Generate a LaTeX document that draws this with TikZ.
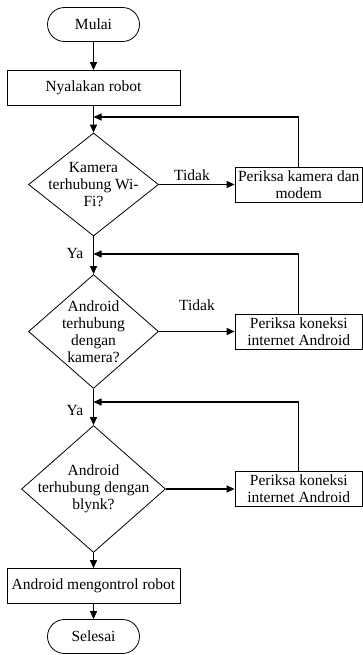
\documentclass[tikz,border=0pt]{standalone}
\usepackage{fontspec}
\setmainfont{Liberation Serif}
\usetikzlibrary{shapes.geometric,arrows.meta}

\begin{document}
\begin{tikzpicture}[x=1pt,y=-1pt,
  font=\fontsize{15.5}{17}\selectfont,
  terminal/.style={draw,line width=0.8pt,rounded corners=17pt,minimum width=92pt,minimum height=34pt,inner sep=0pt},
  process/.style={draw,line width=0.8pt,minimum width=173pt,minimum height=35pt,inner sep=0pt},
  check/.style={draw,line width=0.8pt,align=center,minimum width=127.5pt,minimum height=35pt,inner sep=0pt},
  decision/.style={draw,diamond,line width=0.8pt,inner sep=0pt},
  arrow/.style={line width=1.2pt,-{Triangle[length=8pt,width=7pt]}}]
\useasboundingbox (0,0) rectangle (363,655);

\node[terminal] (mulai) at (93.5,24.5) {Mulai};
\node[process] (nyala) at (93.5,88) {Nyalakan robot};

\node[decision,minimum width=130pt,minimum height=103pt] (cek1) at (93.5,184.5) {};
\node[align=center] (t1) at (cek1) {Kamera\\terhubung Wi-\\Fi?};
\node[check] (periksa1) at (298.75,184.5) {Periksa kamera dan\\modem};

\node[decision,minimum width=130pt,minimum height=114pt] (cek2) at (93.5,331.5) {};
\node[align=center] (t2) at (cek2) {Android\\terhubung\\dengan\\kamera?};
\node[check] (periksa2) at (298.75,331.5) {Periksa koneksi\\internet Android};

\node[decision,minimum width=144pt,minimum height=127pt] (cek3) at (93.5,489) {};
\node[align=center] (t3) at (cek3) {Android\\terhubung dengan\\blynk?};
\node[check] (periksa3) at (298.75,489) {Periksa koneksi\\internet Android};

\node[process] (kontrol) at (93.5,586) {Android mengontrol robot};
\node[terminal] (selesai) at (93.5,636.5) {Selesai};

\node (tidak1) at (192,175) {Tidak};
\node (tidak2) at (197,305) {Tidak};
\node (ya1) at (75,253) {Ya};
\node (ya2) at (75,410) {Ya};

\coordinate (j1) at (93.5,117);
\coordinate (j2) at (93.5,254);
\coordinate (j3) at (93.5,402);

\draw[arrow] (mulai) -- (nyala);
\draw[arrow] (nyala) -- (cek1);
\draw[arrow] (cek1) -- (cek2);
\draw[arrow] (cek2) -- (cek3);
\draw[arrow] (cek3) -- (kontrol);
\draw[arrow] (kontrol) -- (selesai);

\draw[arrow] (cek1) -- (periksa1);
\draw[arrow] (cek2) -- (periksa2);
\draw[arrow] (cek3) -- (periksa3);

\draw[arrow] (periksa1.north) |- (j1);
\draw[arrow] (periksa2.north) |- (j2);
\draw[arrow] (periksa3.north) |- (j3);
\end{tikzpicture}
\end{document}
